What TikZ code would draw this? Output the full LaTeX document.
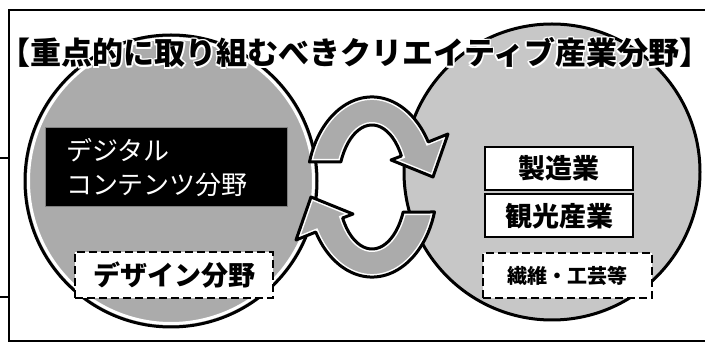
\documentclass[tikz,border=0pt]{standalone}
\usepackage{fontspec}
\newfontfamily\jp{Noto Sans CJK JP}
\newcommand\ArrowUpPath{(309.5,162) arc[start angle=196.1, end angle=330, x radius=65, y radius=90] -- (448,134) -- (433,177) -- (391,160) -- (401.4,156) arc[start angle=330, end angle=203.8, x radius=34, y radius=62] -- cycle}
\newcommand\ArrowLowPath{(434.5,212) arc[start angle=16.1, end angle=150, x radius=65, y radius=90] -- (296,240) -- (311,197) -- (353,214) -- (342.6,218) arc[start angle=150, end angle=23.8, x radius=34, y radius=62] -- cycle}
\newcommand\TitleText{【重点的に取り組むべきクリエイティブ産業分野】}
\begin{document}
\begin{tikzpicture}[x=1pt,y=-1pt,
  frameline/.style={line width=2.4pt},
  bigcircle/.style={line width=3pt},
  arrowband/.style={line width=3pt, line join=round},
  solidbox/.style={draw, line width=2pt, fill=white, minimum width=148pt, minimum height=43pt, inner sep=0pt, font=\jp\bfseries\fontsize{27}{27}\selectfont},
  dashbox/.style={draw, line width=2.5pt, dash pattern=on 8pt off 4pt, fill=white, inner sep=0pt},
  titletext/.style={font=\jp\bfseries\fontsize{31}{31}\selectfont, inner sep=0pt},
]
\useasboundingbox (0,0) rectangle (705,347);
% frame
\draw[frameline] (705,10) -- (9,10) -- (9,341) -- (705,341);
\draw[line width=1.5pt] (0,158) -- (9,158);
\draw[line width=1.5pt] (0,297) -- (9,297);
% right circle
\fill[black!22] (552,172) circle[radius=148];
\draw[bigcircle] (552,172) circle[radius=148];
% left circle
\fill[black!33] (171,181) circle[radius=146];
\draw[white, line width=3pt] (171,181) circle[radius=142.5];
\draw[bigcircle] (171,181) circle[radius=146];
% arrows
\fill[black!33] \ArrowUpPath;
\begin{scope}
  \clip \ArrowUpPath;
  \draw[white, line width=6pt] \ArrowUpPath;
\end{scope}
\draw[arrowband] \ArrowUpPath;
\fill[black!33] \ArrowLowPath;
\begin{scope}
  \clip \ArrowLowPath;
  \draw[white, line width=6pt] \ArrowLowPath;
\end{scope}
\draw[arrowband] \ArrowLowPath;
% left boxes
\node[fill=black, draw=black!50, line width=1pt, minimum width=242pt, minimum height=79pt,
      inner xsep=21pt, inner ysep=0pt, text width=200pt, align=left, text=white,
      font=\jp\fontsize{26}{34}\selectfont] (digital) at (166,167.5) {デジタル\\コンテンツ分野};
\node[dashbox, minimum width=198pt, minimum height=46pt, font=\jp\bfseries\fontsize{27}{27}\selectfont] (design) at (174,275) {デザイン分野};
% right boxes
\node[solidbox] (seizo) at (559,168.5) {製造業};
\node[solidbox] (kanko) at (559,216) {観光産業};
\node[dashbox, minimum width=169pt, minimum height=45pt, font=\jp\bfseries\fontsize{20}{20}\selectfont] (seni) at (567.5,275.5) {繊維・工芸等};
% title with white halo
\foreach \dx/\dy [count=\i] in {1.6/0, -1.6/0, 0/1.6, 0/-1.6, 1.2/1.2, 1.2/-1.2, -1.2/1.2, -1.2/-1.2}
  \node[titletext, text=white] (halo\i) at (355+\dx, 53+\dy) {\TitleText};
\node[titletext] (title) at (355,53) {\TitleText};
\end{tikzpicture}
\end{document}
